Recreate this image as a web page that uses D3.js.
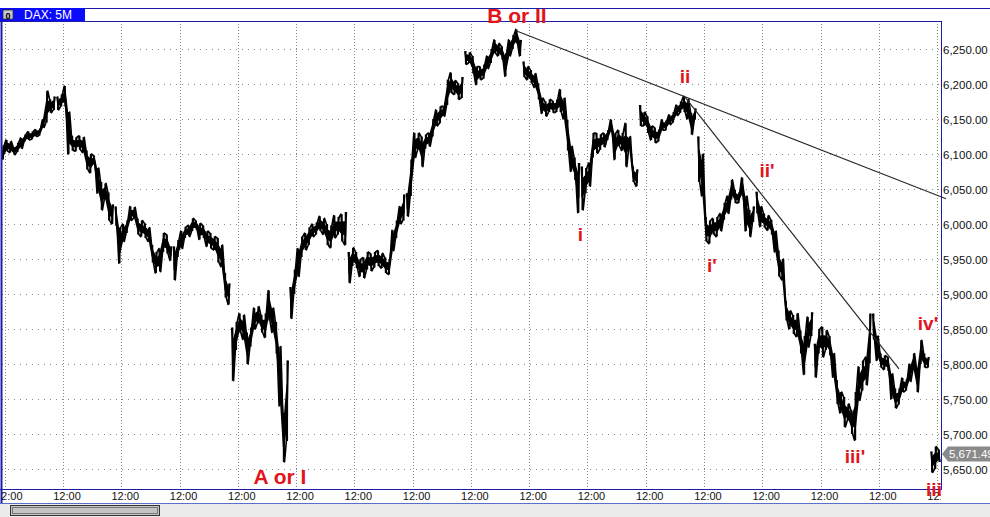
<!DOCTYPE html>
<html><head><meta charset="utf-8">
<script src="https://cdn.jsdelivr.net/npm/d3@7"></script>
<style>body{margin:0;background:#fff}svg{display:block}</style>
</head><body><svg id="c" width="990" height="517"></svg>
<script>
// ---------- data ----------
const title = "DAX: 5M";
const slotsPerSession = 16;   // price samples per trading session
const firstSlot = 1;          // first visible sample slot
const high = [
 6112,6120,6118,6110,6116,6123,6128,6132,6132,6135,6136,6149,6190,6178,6182,
 6182,6185,6197,6160,6126,6124,6126,6124,6105,6100,6098,6080,6060,6058,6045,6028,
 6025,5995,6000,6005,6025,6024,6008,6005,6001,5995,5970,5960,5965,5987,5985,5968,
 5968,5977,5990,5996,5998,6008,6005,6001,5998,5990,5987,5982,5980,5970,5930,5915,
 5852,5860,5872,5870,5845,5852,5880,5882,5870,5872,5905,5880,5860,5825,5730,5805,
 5910,5935,5965,5982,5987,5995,6000,6002,6011,6008,6000,5998,6012,6010,6014,6017,
 5960,5966,5960,5950,5952,5960,5958,5960,5962,5958,5952,5950,5991,6005,6025,6042,
 6044,6092,6130,6130,6125,6128,6130,6150,6163,6168,6168,6206,6216,6205,6201,6210,
 6247,6245,6240,6225,6225,6228,6240,6250,6263,6258,6254,6244,6263,6270,6278,6263,
 6232,6225,6220,6215,6201,6180,6175,6178,6176,6178,6192,6180,6149,6111,6095,6087,
 6082,6080,6087,6130,6130,6128,6130,6134,6149,6130,6134,6130,6144,6125,6082,6078,
 6170,6160,6154,6140,6138,6135,6149,6148,6156,6160,6170,6175,6182,6178,6159,6165,
 6125,6100,6010,6005,6008,6010,6015,6030,6040,6063,6049,6045,6066,6040,6020,6025,
 6046,6025,6015,6012,6006,5990,5962,5950,5890,5876,5870,5872,5848,5840,5867,5874,
 5829,5850,5853,5848,5840,5815,5777,5760,5753,5743,5734,5760,5796,5805,5810,5872,
 5872,5840,5815,5812,5810,5786,5765,5765,5780,5778,5800,5815,5795,5834,5815,5810,
 5675,5682,5678
];
const low = [
 6092,6104,6102,6099,6103,6108,6118,6120,6121,6125,6126,6138,6145,6159,6163,
 6163,6168,6168,6100,6105,6104,6106,6102,6078,6073,6085,6044,6020,6035,6005,6000,
 5997,5944,5975,5987,6005,6008,5985,5982,5980,5975,5945,5930,5932,5960,5958,5948,
 5920,5953,5965,5980,5982,5990,5992,5978,5980,5968,5965,5963,5945,5939,5895,5885,
 5776,5820,5845,5835,5800,5825,5850,5858,5845,5838,5862,5845,5815,5740,5660,5690,
 5865,5900,5925,5953,5963,5970,5982,5985,5990,5985,5970,5966,5980,5985,5975,5970,
 5916,5940,5937,5925,5923,5935,5933,5938,5940,5937,5930,5928,5962,5980,6000,6005,
 6011,6040,6095,6106,6082,6108,6111,6125,6140,6144,6154,6170,6187,6185,6178,6180,
 6228,6230,6215,6199,6206,6208,6222,6230,6244,6240,6235,6211,6240,6250,6258,6240,
 6210,6206,6201,6195,6178,6158,6154,6160,6159,6160,6160,6150,6105,6075,6063,6016,
 6020,6044,6054,6095,6101,6106,6110,6120,6132,6092,6111,6105,6082,6108,6060,6054,
 6140,6140,6130,6120,6116,6118,6134,6134,6142,6145,6155,6159,6160,6150,6128,6149,
 6060,6040,5975,5972,5985,5982,5990,6006,6015,6035,6030,6030,6040,5990,5982,6003,
 6015,5996,5995,5991,5985,5960,5925,5920,5862,5850,5843,5839,5815,5785,5824,5840,
 5781,5815,5810,5820,5812,5781,5743,5730,5710,5719,5700,5691,5748,5762,5770,5801,
 5835,5805,5795,5792,5790,5750,5737,5742,5760,5762,5775,5791,5760,5800,5795,5795,
 5645,5650,5660
];
const yTicks = [5650,5700,5750,5800,5850,5900,5950,6000,6050,6100,6150,6200,6250];
const xTickSessions = [0,1,2,3,4,5,6,7,8,9,10,11,12,13,14,15,16];
const xTickOffset = 0.12;     // 12:00 position inside a session
const xTickLabel = "12:00";
const lastPrice = 5671.49;
const trendStart = [[8.894, 6276], [11.777, 6183]];
const trendEnd   = [[16.274, 6036], [15.467, 5793]];
const waveText   = ["B or II","A or I","i","ii","i'","ii'","iii'","iv'","iii"];
const waveAt     = [[8.911,6287],[4.844,5628],[10.0,5976],[11.795,6201],[12.258,5931],[13.202,6067],[14.712,5658],[15.965,5848],[16.068,5612]];
const waveBig    = [true,true,false,false,false,false,false,false,false];

// ---------- drawing ----------
const svg = d3.select("#c");
const L = 2, R = 941, T = 21, B = 489.5;
const x = d3.scaleLinear().domain([0, 16]).range([-2.27, 930.05]);
const y = d3.scaleLinear().domain([5650, 6250]).range([469, 49]);
const blue = "#1c1ca6";

svg.append("rect").attr("width",990).attr("height",517).attr("fill","#fff");

const defs = svg.append("defs");
defs.append("clipPath").attr("id","plot").append("rect").attr("x",L).attr("y",T).attr("width",R-L).attr("height",B-T);
defs.append("clipPath").attr("id","xlab").append("rect").attr("x",L).attr("y",B).attr("width",R-L).attr("height",14);

const plot = svg.append("g").attr("clip-path","url(#plot)");

// grid
plot.selectAll("line.hg").data(yTicks).join("line")
  .attr("x1",L).attr("x2",R).attr("y1",d=>Math.round(y(d))+0.5).attr("y2",d=>Math.round(y(d))+0.5)
  .attr("stroke","#8a8a8a").attr("stroke-width",1).attr("stroke-dasharray","1,5");
plot.selectAll("line.vg").data(xTickSessions).join("line")
  .attr("x1",d=>Math.round(x(d+xTickOffset))+0.5).attr("x2",d=>Math.round(x(d+xTickOffset))+0.5)
  .attr("y1",T).attr("y2",B)
  .attr("stroke","#8a8a8a").attr("stroke-width",1).attr("stroke-dasharray","1,2");

// price data points grouped by session
const pts = high.map((h,i)=>{
  const g = i + firstSlot;
  return {s: Math.floor(g/slotsPerSession), t:(g+0.5)/slotsPerSession, hi:h, lo:low[i], k:i};
});
const sessions = d3.groups(pts, d=>d.s).map(d=>d[1]);
// core body of the bar cloud (central part of each high-low range)
const core = d3.area().x(d=>x(d.t))
  .y0(d=>y(d.lo + (d.hi-d.lo)*0.3)).y1(d=>y(d.hi - (d.hi-d.lo)*0.3));
plot.selectAll("path.core").data(sessions).join("path")
  .attr("d",core).attr("fill","#000").attr("stroke","#000").attr("stroke-width",1.6);
// zig-zag through each sample's high and low, like dense bars
const zig = d3.line().x(d=>d[0]).y(d=>d[1]);
plot.selectAll("path.sess").data(sessions).join("path")
  .attr("d",ss=>{
    const v = [];
    ss.forEach(d=>{
      const cx = x(d.t), up = d.k % 2 === 0;
      v.push([cx-0.9, y(up?d.lo:d.hi)]);
      v.push([cx+0.9, y(up?d.hi:d.lo)]);
    });
    return zig(v);
  })
  .attr("fill","none").attr("stroke","#000").attr("stroke-width",1.6).attr("stroke-linejoin","round");
plot.selectAll("line.bar").data(pts).join("line")
  .attr("x1",d=>x(d.t)).attr("x2",d=>x(d.t)).attr("y1",d=>y(d.hi)).attr("y2",d=>y(d.lo))
  .attr("stroke","#000").attr("stroke-width",1.6);

// trend lines
const tl = svg.append("g");
trendStart.forEach((s,i)=>{
  const e = trendEnd[i];
  tl.append("line").attr("x1",x(s[0])).attr("y1",y(s[1])).attr("x2",x(e[0])).attr("y2",y(e[1]))
    .attr("stroke","#2a2a2a").attr("stroke-width",1.2);
});

// frame
svg.append("line").attr("x1",0).attr("x2",990).attr("y1",8.5).attr("y2",8.5).attr("stroke",blue);
svg.append("line").attr("x1",0).attr("x2",R).attr("y1",T+0.5).attr("y2",T+0.5).attr("stroke",blue);
svg.append("line").attr("x1",R+0.5).attr("x2",R+0.5).attr("y1",T).attr("y2",B).attr("stroke",blue);
svg.append("line").attr("x1",1.5).attr("x2",1.5).attr("y1",8).attr("y2",504).attr("stroke",blue).attr("stroke-width",2);
svg.append("line").attr("x1",0).attr("x2",R+1).attr("y1",B).attr("y2",B).attr("stroke",blue);
svg.append("line").attr("x1",0).attr("x2",990).attr("y1",503.5).attr("y2",503.5).attr("stroke","#5a6fc8");
svg.append("rect").attr("x",0).attr("y",504).attr("width",990).attr("height",13).attr("fill","#ececec");
svg.append("rect").attr("x",10.5).attr("y",505.5).attr("width",149).attr("height",10).attr("fill","#c4c4c4").attr("stroke","#333");
svg.append("rect").attr("x",12.5).attr("y",507.5).attr("width",145).attr("height",6).attr("fill","none").attr("stroke","#777");

// title box
svg.append("rect").attr("x",0).attr("y",8).attr("width",85).attr("height",13).attr("fill","#0a0aff");
svg.append("rect").attr("x",3).attr("y",10).attr("width",10).attr("height",9).attr("fill","#c8c8c8").attr("stroke","#333").attr("stroke-width",0.8);
svg.append("text").attr("x",8).attr("y",18.5).attr("text-anchor","middle").attr("font-family","Liberation Sans, Arial").attr("font-weight","bold").attr("font-size",9).attr("fill","#000").text("0");
svg.append("text").attr("x",24).attr("y",19).attr("font-family","Liberation Sans, Arial").attr("font-size",12).attr("fill","#fff").text(title);

// y axis labels
svg.selectAll("text.yl").data(yTicks).join("text")
  .attr("x",943).attr("y",d=>y(d)+4.5)
  .attr("font-family","Liberation Sans, Arial").attr("font-size",11.5).attr("fill","#111")
  .text(d=>d3.format(",.2f")(d));

// x axis labels
svg.append("g").attr("clip-path","url(#xlab)").selectAll("text").data(xTickSessions).join("text")
  .attr("x",d=>x(d+xTickOffset)+4).attr("y",500).attr("text-anchor","middle")
  .attr("font-family","Liberation Sans, Arial").attr("font-size",11).attr("fill","#111")
  .text(xTickLabel);

// last price callout
const ly = y(lastPrice);
svg.append("path").attr("d",`M942,${ly} L948,${ly-7.5} L990,${ly-7.5} L990,${ly+7.5} L948,${ly+7.5} Z`).attr("fill","#8a8a8a");
svg.append("text").attr("x",949).attr("y",ly+4.5).attr("font-family","Liberation Sans, Arial").attr("font-size",11.5).attr("fill","#fff").text(d3.format(",.2f")(lastPrice));

// wave labels
svg.selectAll("text.wl").data(waveText).join("text")
  .attr("x",(d,i)=>x(waveAt[i][0])).attr("y",(d,i)=>y(waveAt[i][1]))
  .attr("text-anchor","middle").attr("font-family","Liberation Sans, Arial").attr("font-weight","bold")
  .attr("font-size",(d,i)=>waveBig[i]?21:19).attr("fill","#e2141c").text(d=>d);
</script></body></html>
